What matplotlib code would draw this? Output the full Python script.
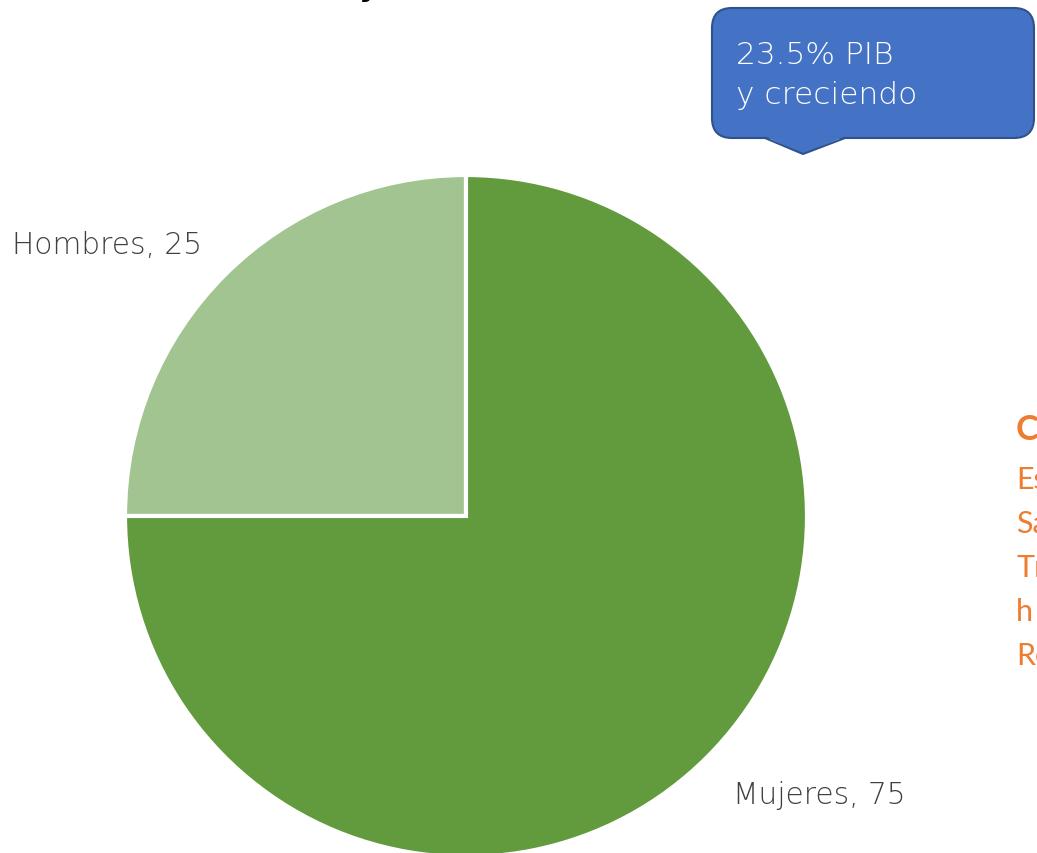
import matplotlib
matplotlib.use("Agg")
import matplotlib.pyplot as plt
from matplotlib.patches import FancyBboxPatch, Polygon

# data
categories = ["Hombres", "Mujeres"]
values = [25, 75]
colors = ["#A2C490", "#629A3E"]
callout_lines = ["23.5% PIB", "y creciendo"]
side_title = "Cuidados"
side_lines = ["Esfuerzo", "Salud", "Trabajo", "h", "Remunerado"]

W, H = 1037, 854
fig = plt.figure(figsize=(W / 100, H / 100), dpi=100)
ax = fig.add_axes([0, 0, 1, 1])

ax.pie(values, colors=colors, startangle=90, counterclock=True,
       center=(466, H - 517), radius=341, frame=True,
       wedgeprops=dict(edgecolor="white", linewidth=3))
ax.set_xlim(0, W)
ax.set_ylim(0, H)
ax.set_aspect("equal")
ax.axis("off")

label_pos = [(12, H - 245), (733, H - 796)]
for cat, v, (x, y) in zip(categories, values, label_pos):
    ax.text(x, y, f"{cat}, {v}", fontsize=21.3, color="#404040",
            family="DejaVu Sans", fontweight="light", ha="left", va="center")

# cut-off title at the top edge
ax.text(395, H + 4, "Trabajo", fontsize=22, fontweight="bold", color="black",
        ha="right", va="baseline")

# callout bubble
box = FancyBboxPatch((712, H - 139), 322, 130,
                     boxstyle="round,pad=0,rounding_size=20",
                     facecolor="#4472C4", edgecolor="#2F528F", linewidth=1.5, zorder=3)
ax.add_patch(box)
tri = Polygon([(765, H - 139 + 1.5), (803, H - 155), (845, H - 139 + 1.5)],
              closed=True, facecolor="#4472C4", edgecolor="none", zorder=4)
ax.add_patch(tri)
ax.plot([765, 803, 845], [H - 139, H - 155, H - 139], color="#2F528F", lw=1.5, zorder=5)
for i, line in enumerate(callout_lines):
    ax.text(736, H - 55 - 40 * i, line, fontsize=22.5, color="white",
            family="DejaVu Sans", fontweight="light", ha="left", va="center", zorder=6)

# orange side text, clipped by the figure edge
ax.text(1016, H - 430, side_title, fontsize=25, fontweight="bold",
        color="#ED7D31", family="Lato", ha="left", va="center")
for i, line in enumerate(side_lines):
    ax.text(1016, H - 480 - 44 * i, line, fontsize=22, color="#ED7D31",
            family="Lato", ha="left", va="center")

fig.savefig("out.png", dpi=100)
